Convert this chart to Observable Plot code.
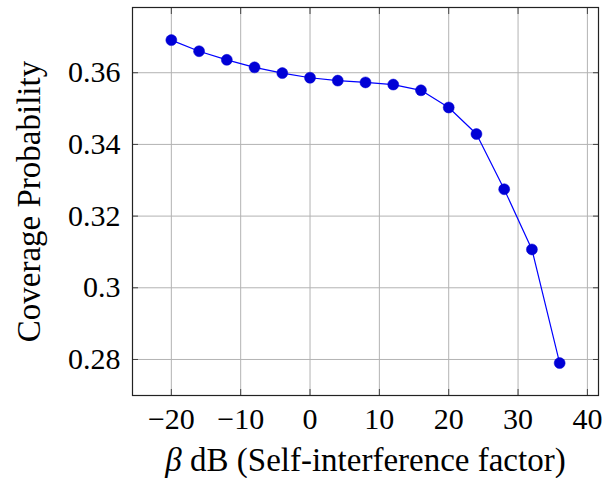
<!DOCTYPE html>
<html>
<head>
<meta charset="utf-8">
<script src="https://cdn.jsdelivr.net/npm/d3@7"></script>
<script src="https://cdn.jsdelivr.net/npm/@observablehq/plot@0.6"></script>
<style>
  html, body { margin: 0; padding: 0; background: #fff; }
  #chart svg { display: block; }
</style>
</head>
<body>
<div id="chart"></div>
<script>
const beta = [-20, -16, -12, -8, -4, 0, 4, 8, 12, 16, 20, 24, 28, 32, 36];
const coverage = [0.3691, 0.3660, 0.3636, 0.3615, 0.3599, 0.3586, 0.3578, 0.3573, 0.3567, 0.3551, 0.3503, 0.3429, 0.3275, 0.3107, 0.2790];
const xTicks = [-20, -10, 0, 10, 20, 30, 40];
const yTicks = [0.28, 0.30, 0.32, 0.34, 0.36];
const xLabel = "β dB (Self-interference factor)";
const yLabel = "Coverage Probability";

const data = beta.map((b, i) => ({beta: b, p: coverage[i]}));
const fmtX = d => (d < 0 ? "\u2212" + Math.abs(d) : String(d));
const fmtY = d => String(+d.toFixed(2));
const serif = "'Liberation Serif', 'DejaVu Serif', serif";

const chart = Plot.plot({
  width: 612,
  height: 478,
  marginLeft: 132,
  marginRight: 14,
  marginTop: 7,
  marginBottom: 83,
  style: {fontFamily: serif, fontSize: "29px", color: "#000", background: "#fff"},
  x: {domain: [-25.6, 41.6], ticks: xTicks},
  y: {domain: [0.26995, 0.3782], ticks: yTicks},
  marks: [
    Plot.gridX(xTicks, {stroke: "#b3b3b3", strokeOpacity: 1, strokeWidth: 1}),
    Plot.gridY(yTicks, {stroke: "#b3b3b3", strokeOpacity: 1, strokeWidth: 1}),
    Plot.axisX(xTicks, {anchor: "bottom", tickSize: 0, tickPadding: 12, tickFormat: fmtX, label: null}),
    Plot.axisX(xTicks, {anchor: "bottom", tickSize: -6, tickFormat: () => "", label: xLabel, labelAnchor: "center", labelArrow: "none", labelOffset: 75, stroke: "#444"}),
    Plot.axisX(xTicks, {anchor: "top", tickSize: -6, tickFormat: () => "", label: null, stroke: "#444"}),
    Plot.axisY(yTicks, {anchor: "left", tickSize: 0, tickPadding: 12, tickFormat: fmtY, label: null}),
    Plot.axisY(yTicks, {anchor: "left", tickSize: -6, tickFormat: () => "", label: yLabel, labelAnchor: "center", labelArrow: "none", labelOffset: 116, stroke: "#444"}),
    Plot.axisY(yTicks, {anchor: "right", tickSize: -6, tickFormat: () => "", label: null, stroke: "#444"}),
    Plot.frame({stroke: "#222", strokeWidth: 1.2}),
    Plot.line(data, {x: "beta", y: "p", stroke: "#0000ff", strokeWidth: 1.2}),
    Plot.dot(data, {x: "beta", y: "p", r: 5.5, fill: "#0000d6", stroke: "#0000d6", strokeWidth: 0.5})
  ]
});

// fonts: tick labels and axis labels
const svg = d3.select(chart);
svg.selectAll("g[aria-label$='tick label']")
  .style("font-family", serif).style("font-size", "30px").style("font-variant", "normal")
  .attr("font-family", null).attr("font-size", null).attr("font-variant", null);
svg.selectAll("g[aria-label$='tick label'] text").attr("font-variant", null).style("font-variant", "normal");
svg.selectAll("g[aria-label$='label']:not([aria-label$='tick label'])")
  .style("font-family", serif).style("font-size", "33px");

// italic beta in the x label
svg.selectAll("text").each(function() {
  const t = d3.select(this);
  if (t.text() === xLabel) {
    t.text(null);
    t.append("tspan").attr("font-style", "italic").text("β");
    t.append("tspan").text(" dB (Self-interference factor)");
  }
});

document.getElementById("chart").appendChild(chart);
</script>
</body>
</html>
